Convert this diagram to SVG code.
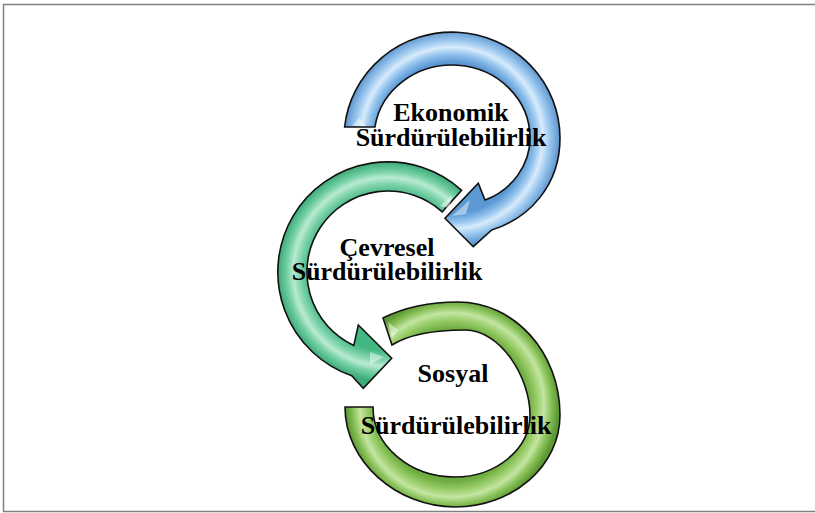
<svg xmlns="http://www.w3.org/2000/svg" width="815" height="513" viewBox="0 0 815 513">
<defs>
<radialGradient id="gBlue" gradientUnits="userSpaceOnUse" cx="452" cy="138" r="108">
<stop offset="0" stop-color="#5b98d4"/>
<stop offset="0.70" stop-color="#5b98d4"/>
<stop offset="0.78" stop-color="#94c4ee"/>
<stop offset="0.84" stop-color="#d8ebfb"/>
<stop offset="0.90" stop-color="#9fcaf0"/>
<stop offset="1" stop-color="#5a93cd"/>
</radialGradient>
<radialGradient id="gGreen" gradientUnits="userSpaceOnUse" cx="388" cy="272" r="110">
<stop offset="0" stop-color="#3fb37e"/>
<stop offset="0.72" stop-color="#44b883"/>
<stop offset="0.80" stop-color="#7fd4ab"/>
<stop offset="0.86" stop-color="#b9ebd2"/>
<stop offset="0.92" stop-color="#72cfa2"/>
<stop offset="1" stop-color="#3dab78"/>
</radialGradient>
<radialGradient id="gSos" gradientUnits="userSpaceOnUse" cx="452" cy="405" r="106">
<stop offset="0" stop-color="#6aa83c"/>
<stop offset="0.72" stop-color="#6eac40"/>
<stop offset="0.80" stop-color="#98cc68"/>
<stop offset="0.87" stop-color="#c3e5a2"/>
<stop offset="0.93" stop-color="#8cc45c"/>
<stop offset="1" stop-color="#5e9a34"/>
</radialGradient>
<style>
.frame{stroke:#808080;stroke-width:1.5;fill:none}
.arr{stroke:#111;stroke-width:1.6;stroke-linejoin:miter}
.hl{fill:#ffffff;opacity:0.45}
.lbl{font-family:"Liberation Serif","Times New Roman",serif;font-weight:bold;font-size:26px;fill:#000;text-anchor:middle}
</style>
</defs>
<rect width="815" height="513" fill="#ffffff"/>
<g id="frame">
<line class="frame" x1="3" y1="4.5" x2="815" y2="4.5"/>
<line class="frame" x1="3.5" y1="4" x2="3.5" y2="512"/>
<line class="frame" x1="3" y1="511.5" x2="815" y2="511.5"/>
</g>
<g id="connectors">
<g id="arrow-ekonomik">
<path class="arr" fill="url(#gBlue)" d="M344.6,127 A108,106 0 0 1 560,138 C560,185 530,218 491.7,230 L473.3,246.7 L445,218.3 L478.3,183.3 L485,200 C512,190 530,165 530,138 A78,73 0 0 0 374.9,127 Z"/>
<path class="hl" d="M352,126 L359,118 L366,126 Z"/>
<path class="hl" d="M452,216 L470,200 L466,214 Z"/>
</g>
<g id="arrow-cevresel">
<path class="arr" fill="url(#gGreen)" d="M461.6,190.3 A110,110 0 1 0 351.7,375.8 L363.3,388.3 L391.7,358.3 L358.3,325 L353.8,345.4 A81,81 0 1 1 442.2,211.8 Z"/>
<path class="hl" d="M440,206 L452,195 L449,208 Z"/>
<path class="hl" d="M370,352 L384,357 L370,364 Z"/>
</g>
<g id="arrow-sosyal">
<path class="arr" fill="url(#gSos)" d="M383,318 C405,307 430,302 458,302 C514,302 560,352 560,415 C560,466 513,507 455,507 C397,507 345,462 345,407 L373,407 C373,446 410,477 455,477 C496,477 530,449 530,415 C530,378 501,330 465,330 C435,330 408,335 392,345 Z"/>
<path class="hl" d="M388,322 L398,330 L392,338 Z"/>
</g>
</g>
<g id="node-ekonomik">
<text class="lbl" x="451" y="121">Ekonomik</text>
<text class="lbl" x="451" y="146">Sürdürülebilirlik</text>
</g>
<g id="node-cevresel">
<text class="lbl" x="387" y="256">Çevresel</text>
<text class="lbl" x="387" y="280">Sürdürülebilirlik</text>
</g>
<g id="node-sosyal">
<text class="lbl" x="453" y="382">Sosyal</text>
<text class="lbl" x="456" y="434">Sürdürülebilirlik</text>
</g>
</svg>
